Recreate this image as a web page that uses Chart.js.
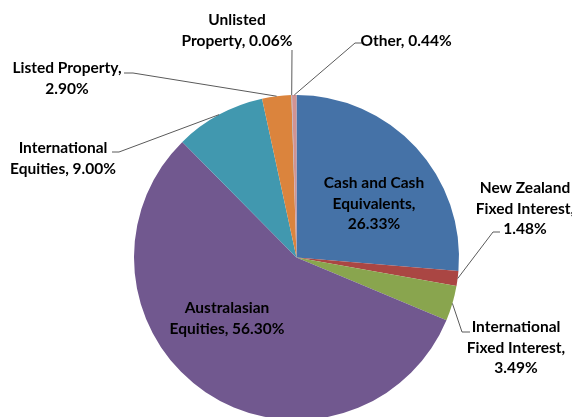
<!DOCTYPE html>
<html>
<head>
<meta charset="utf-8">
<script src="https://cdn.jsdelivr.net/npm/chart.js@4.4.1/dist/chart.umd.min.js"></script>
<style>
  html, body { margin: 0; padding: 0; background: #fff; }
  #wrap { width: 572px; height: 417px; overflow: hidden; position: relative; }
  canvas { display: block; }
</style>
</head>
<body>
<div id="wrap"><canvas id="pie" width="572" height="440"></canvas></div>
<script>
// datos del gráfico
const categories = [
  'Cash and Cash Equivalents',
  'New Zealand Fixed Interest',
  'International Fixed Interest',
  'Australasian Equities',
  'International Equities',
  'Listed Property',
  'Unlisted Property',
  'Other'
];
const values = [26.33, 1.48, 3.49, 56.30, 9.00, 2.90, 0.06, 0.44];
const colours = ['#4572A7', '#AA4643', '#89A54E', '#71588F', '#4198AF', '#DB843D', '#93A9CF', '#D19392'];

// posición de las etiquetas (x centro, y primera línea), líneas de texto y codo de la guía
const labelLayout = [
  { x: 374, y: 183, lines: ['Cash and Cash', 'Equivalents,', '26.33%'] },
  { x: 525, y: 188, lines: ['New Zealand', 'Fixed Interest,', '1.48%'], elbow: [493, 232], end: [500, 232] },
  { x: 516, y: 327, lines: ['International', 'Fixed Interest,', '3.49%'], elbow: [462, 332], end: [470, 332] },
  { x: 227, y: 308, lines: ['Australasian', 'Equities, 56.30%'] },
  { x: 63, y: 148, lines: ['International', 'Equities, 9.00%'], elbow: [119, 152], end: [112, 152] },
  { x: 67, y: 68, lines: ['Listed Property,', '2.90%'], elbow: [133, 73], end: [124, 73] },
  { x: 237, y: 20, lines: ['Unlisted', 'Property, 0.06%'], elbow: [292, 50], end: [292, 50] },
  { x: 406, y: 41, lines: ['Other, 0.44%'], elbow: [355, 43], end: [364, 43] }
];

const labelPlugin = {
  id: 'pieLabels',
  afterDatasetsDraw(chart) {
    const ctx = chart.ctx;
    const arcs = chart.getDatasetMeta(0).data;
    ctx.save();
    ctx.font = 'bold 15.5px Lato, "Open Sans", sans-serif';
    ctx.textAlign = 'center';
    ctx.textBaseline = 'middle';
    ctx.fillStyle = '#000';
    labelLayout.forEach((lab, i) => {
      const arc = arcs[i];
      if (lab.elbow) {
        const mid = (arc.startAngle + arc.endAngle) / 2;
        const px = arc.x + Math.cos(mid) * arc.outerRadius;
        const py = arc.y + Math.sin(mid) * arc.outerRadius;
        ctx.strokeStyle = '#5a5a5a';
        ctx.lineWidth = 1;
        ctx.beginPath();
        ctx.moveTo(px, py);
        ctx.lineTo(lab.elbow[0], lab.elbow[1]);
        ctx.lineTo(lab.end[0], lab.end[1]);
        ctx.stroke();
      }
      lab.lines.forEach((t, k) => {
        ctx.fillText(t, lab.x, lab.y + k * 20.5);
      });
    });
    ctx.restore();
  }
};

new Chart(document.getElementById('pie'), {
  type: 'pie',
  data: {
    labels: categories,
    datasets: [{
      data: values,
      backgroundColor: colours,
      borderWidth: 0
    }]
  },
  options: {
    responsive: false,
    animation: false,
    layout: { padding: { left: 134, right: 113, top: 95, bottom: 20 } },
    plugins: {
      legend: { display: false },
      tooltip: { enabled: false }
    }
  },
  plugins: [labelPlugin]
});
</script>
</body>
</html>
